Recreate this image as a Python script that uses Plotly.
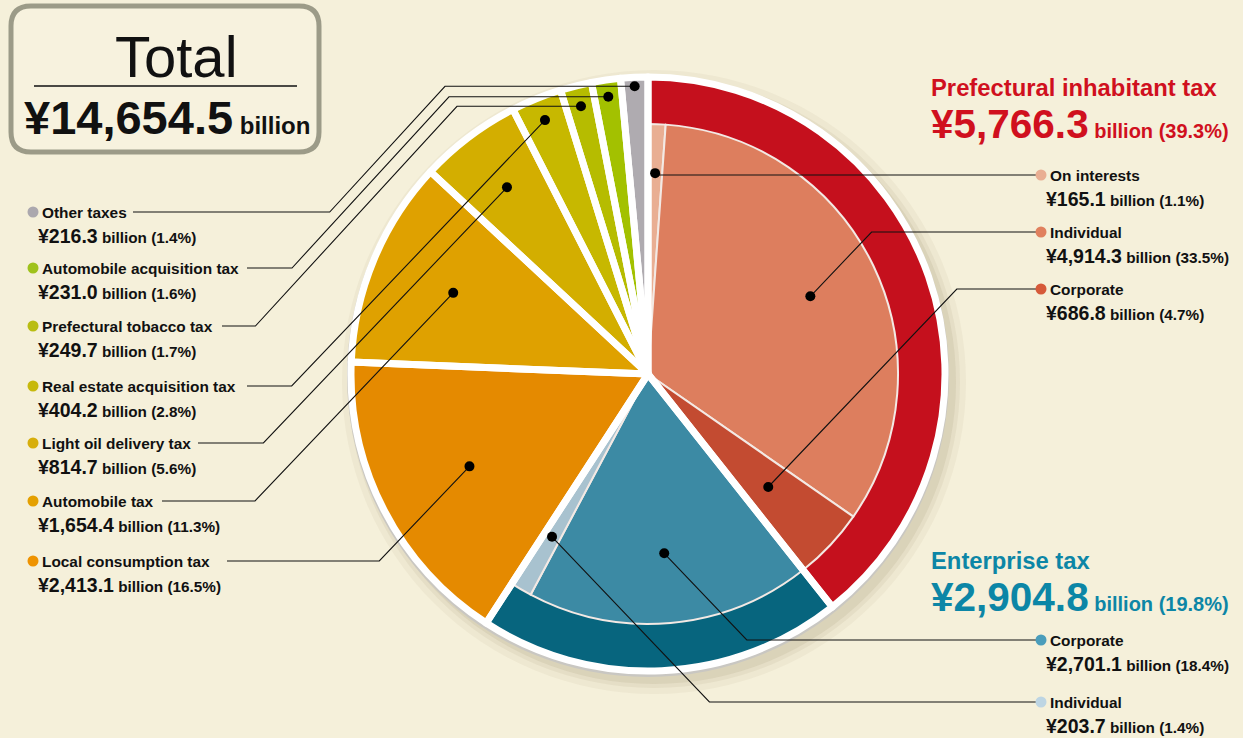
import math
import plotly.graph_objects as go

# ---------------- data ----------------
total_value = 14654.5

group_names = ["Prefectural inhabitant tax", "Enterprise tax"]
group_values = [5766.3, 2904.8]
group_pcts = ["39.3%", "19.8%"]

inhabitant_names = ["On interests", "Individual", "Corporate"]
inhabitant_values = [165.1, 4914.3, 686.8]
inhabitant_pcts = ["1.1%", "33.5%", "4.7%"]

enterprise_names = ["Corporate", "Individual"]
enterprise_values = [2701.1, 203.7]
enterprise_pcts = ["18.4%", "1.4%"]

other_names = ["Local consumption tax", "Automobile tax", "Light oil delivery tax",
               "Real estate acquisition tax", "Prefectural tobacco tax",
               "Automobile acquisition tax", "Other taxes"]
other_values = [2413.1, 1654.4, 814.7, 404.2, 249.7, 231.0, 216.3]
other_pcts = ["16.5%", "11.3%", "5.6%", "2.8%", "1.7%", "1.6%", "1.4%"]

# ---------------- styles / layout positions ----------------
W, H = 1243, 738
BG = "#F5F0DA"
FONT = "Liberation Sans, Arial, Helvetica, sans-serif"
RED = "#D0101E"
TEAL = "#0C86A6"

ring_colors = ["#C5101D", "#07657E"]
inhabitant_colors = ["#E9AE93", "#DD7E5E", "#C34B31"]
enterprise_colors = ["#3C8AA4", "#A8C2CF"]
other_colors = ["#E58A00", "#DFA100", "#D3AE00", "#C7B800", "#B6BC00", "#A3C100", "#AFABB0"]
inhabitant_dot_colors = ["#E9AE93", "#E0805E", "#D65A3A"]
enterprise_dot_colors = ["#4A9DBB", "#BDD5E3"]
other_dot_colors = ["#EE9300", "#E4A000", "#D7AE0B", "#C7B90C", "#B9BD12", "#9FC21C", "#ABA8AE"]

NAME_SIZE = 15.4
VALUE_SIZE = 19.5
REST_SIZE = 15.3

CX, CY = 648, 374          # pie centre (pixels)
R_OUT, R_IN = 297, 250     # pie radii (pixels)

# callout dot radius per slice (clockwise order of all sub-slices)
callout_r = [201, 180, 165, 180, 189, 201, 211, 234, 274, 276, 280, 288]

right_name_y = [175, 232, 289, 640, 702]
left_name_y = [561, 501, 443, 386, 326, 268, 212]
left_line_end_x = [227, 162, 198, 247, 222, 247, 133]
left_hook_x = [None, None, None, None, 457, 449, 445]
RIGHT_DOT_X, LEFT_DOT_X = 1041, 33


def dom(r):
    return dict(x=[(CX - r) / W, (CX + r) / W],
                y=[(H - CY - r) / H, (H - CY + r) / H])


fig = go.Figure()

# invisible cartesian trace so the pixel axes exist
fig.add_trace(go.Scatter(x=[0, W], y=[0, H], mode="markers", marker=dict(opacity=0),
                         hoverinfo="skip", showlegend=False))

outer_labels = group_names + other_names
fig.add_trace(go.Pie(
    labels=outer_labels, values=group_values + other_values, sort=False,
    direction="clockwise", rotation=0, textinfo="none", showlegend=False,
    marker=dict(colors=ring_colors + other_colors, line=dict(width=0)),
    domain=dom(R_OUT), hoverinfo="label+value"))

inner_labels = ["Prefectural inhabitant tax: " + n for n in inhabitant_names] + \
               ["Enterprise tax: " + n for n in enterprise_names] + ["rest"]
n_sub = len(inhabitant_values) + len(enterprise_values)
fig.add_trace(go.Pie(
    labels=inner_labels, values=inhabitant_values + enterprise_values + [sum(other_values)],
    sort=False, direction="clockwise", rotation=0, textinfo="none", showlegend=False,
    marker=dict(colors=inhabitant_colors + enterprise_colors + ["rgba(0,0,0,0)"],
                line=dict(color=["#F3E9E4"] * n_sub + ["rgba(0,0,0,0)"],
                          width=[2] * n_sub + [0])),
    domain=dom(R_IN), hoverinfo="skip"))

fig.add_trace(go.Pie(
    labels=outer_labels, values=group_values + other_values, sort=False,
    direction="clockwise", rotation=0, textinfo="none", showlegend=False,
    marker=dict(colors=["rgba(0,0,0,0)"] * len(outer_labels),
                line=dict(color="white", width=7)),
    domain=dom(R_OUT), hoverinfo="skip"))

shapes = []
annotations = []

# shadow and rim behind the pie
for rr, op in [(312, 0.05), (306, 0.07), (302, 0.09)]:
    shapes.append(dict(type="circle", xref="x", yref="y", layer="below",
                       x0=CX + 6 - rr, x1=CX + 6 + rr, y0=CY + 8 - rr, y1=CY + 8 + rr,
                       fillcolor=f"rgba(110,95,50,{op})", line=dict(width=0)))
shapes.append(dict(type="circle", xref="x", yref="y", layer="below",
                   x0=CX - 301, x1=CX + 301, y0=CY + 2 - 301, y1=CY + 2 + 301,
                   fillcolor="#C9C7C2", line=dict(width=0)))

# mid angles of all sub-slices
all_values = inhabitant_values + enterprise_values + other_values
tot = sum(all_values)
dots = []
cum = 0.0
for v, r in zip(all_values, callout_r):
    th = math.radians(360.0 * (cum + v / 2) / tot)
    dots.append((CX + r * math.sin(th), CY - r * math.cos(th)))
    cum += v


def dot_shape(x, y, d, color):
    return dict(type="circle", xref="x", yref="y", layer="above",
                x0=x - d / 2, x1=x + d / 2, y0=y - d / 2, y1=y + d / 2,
                fillcolor=color, line=dict(width=0))


def line_shape(pts):
    p = "M " + " L ".join(f"{x:.1f},{y:.1f}" for x, y in pts)
    return dict(type="path", xref="x", yref="y", layer="above", path=p,
                line=dict(color="#111111", width=1.1))


def text(x, y, t, size, color="#111", anchor="left"):
    return dict(x=x, y=y, text=t, font=dict(family=FONT, size=size, color=color),
                xanchor=anchor, yanchor="middle", showarrow=False, xref="x", yref="y")


def value_text(v, pct, big, small):
    return (f"<b><span style='font-size:{big}px'>¥{v:,.1f}</span>"
            f"<span style='font-size:{small}px'> billion ({pct})</span></b>")


SLOPE = 1.05

# right side callouts
right_names = inhabitant_names + enterprise_names
right_values = inhabitant_values + enterprise_values
right_pcts = inhabitant_pcts + enterprise_pcts
right_dots = inhabitant_dot_colors + enterprise_dot_colors
for i in range(5):
    dx, dy = dots[i]
    ly = right_name_y[i]
    kx = dx + abs(ly - dy) / SLOPE
    shapes.append(line_shape([(dx, dy), (kx, ly), (RIGHT_DOT_X - 4, ly)]))
    shapes.append(dot_shape(dx, dy, 10, "black"))
    shapes.append(dot_shape(RIGHT_DOT_X, ly, 11, right_dots[i]))
    annotations.append(text(RIGHT_DOT_X + 7, ly, f"<b>{right_names[i]}</b>", NAME_SIZE))
    annotations.append(text(RIGHT_DOT_X + 3, ly + 24,
                            value_text(right_values[i], right_pcts[i], VALUE_SIZE, REST_SIZE),
                            REST_SIZE))

# left side callouts
for j in range(len(other_names)):
    dx, dy = dots[5 + j]
    ly = left_name_y[j]
    if left_hook_x[j] is None:
        kx = dx - abs(ly - dy) / SLOPE
        pts = [(dx, dy), (kx, ly), (left_line_end_x[j], ly)]
    else:
        hx = left_hook_x[j]
        kx = hx - abs(ly - dy) / 1.09
        pts = [(dx, dy), (hx, dy), (kx, ly), (left_line_end_x[j], ly)]
    shapes.append(line_shape(pts))
    shapes.append(dot_shape(dx, dy, 10, "black"))
    shapes.append(dot_shape(LEFT_DOT_X, ly, 11, other_dot_colors[j]))
    annotations.append(text(LEFT_DOT_X + 7, ly, f"<b>{other_names[j]}</b>", NAME_SIZE))
    annotations.append(text(LEFT_DOT_X + 3, ly + 24,
                            value_text(other_values[j], other_pcts[j], VALUE_SIZE, REST_SIZE),
                            REST_SIZE))

# group titles
group_title_y = [87, 560]
group_colors = [RED, TEAL]
for g in range(2):
    gy = group_title_y[g]
    annotations.append(text(929, gy, f"<b>{group_names[g]}</b>", 23.8, group_colors[g]))
    annotations.append(text(929, gy + 37,
                            value_text(group_values[g], group_pcts[g], 40.5, 20),
                            20, group_colors[g]))

# total box
bx0, bx1, by0, by1, rc = 11, 319, 6, 152, 20
box_path = (f"M {bx0+rc},{by0} L {bx1-rc},{by0} Q {bx1},{by0} {bx1},{by0+rc} "
            f"L {bx1},{by1-rc} Q {bx1},{by1} {bx1-rc},{by1} L {bx0+rc},{by1} "
            f"Q {bx0},{by1} {bx0},{by1-rc} L {bx0},{by0+rc} Q {bx0},{by0} {bx0+rc},{by0} Z")
shapes.append(dict(type="path", xref="x", yref="y", layer="above", path=box_path,
                   fillcolor="#F7F2DE", line=dict(color="#9C9B88", width=5)))
shapes.append(dict(type="line", xref="x", yref="y", layer="above",
                   x0=34, x1=297, y0=86, y1=86, line=dict(color="#111", width=1.5)))
annotations.append(text(176, 56, "Total", 58, anchor="center"))
annotations.append(dict(x=22, y=117,
                        text=f"<b><span style='font-size:47px'>¥{total_value:,.1f}</span>"
                             f"<span style='font-size:24px'> billion</span></b>",
                        font=dict(family=FONT, size=24, color="#111"),
                        xanchor="left", yanchor="middle", showarrow=False,
                        xref="x", yref="y"))

fig.update_layout(
    width=W, height=H, autosize=False,
    margin=dict(l=0, r=0, t=0, b=0, pad=0),
    paper_bgcolor=BG, plot_bgcolor=BG,
    xaxis=dict(range=[0, W], visible=False, fixedrange=True, domain=[0, 1]),
    yaxis=dict(range=[H, 0], visible=False, fixedrange=True, domain=[0, 1]),
    shapes=shapes, annotations=annotations, showlegend=False,
)

fig.write_html("out.html", config={"displayModeBar": False},
               post_script="document.body.style.margin='0px';document.body.style.overflow='hidden';")
